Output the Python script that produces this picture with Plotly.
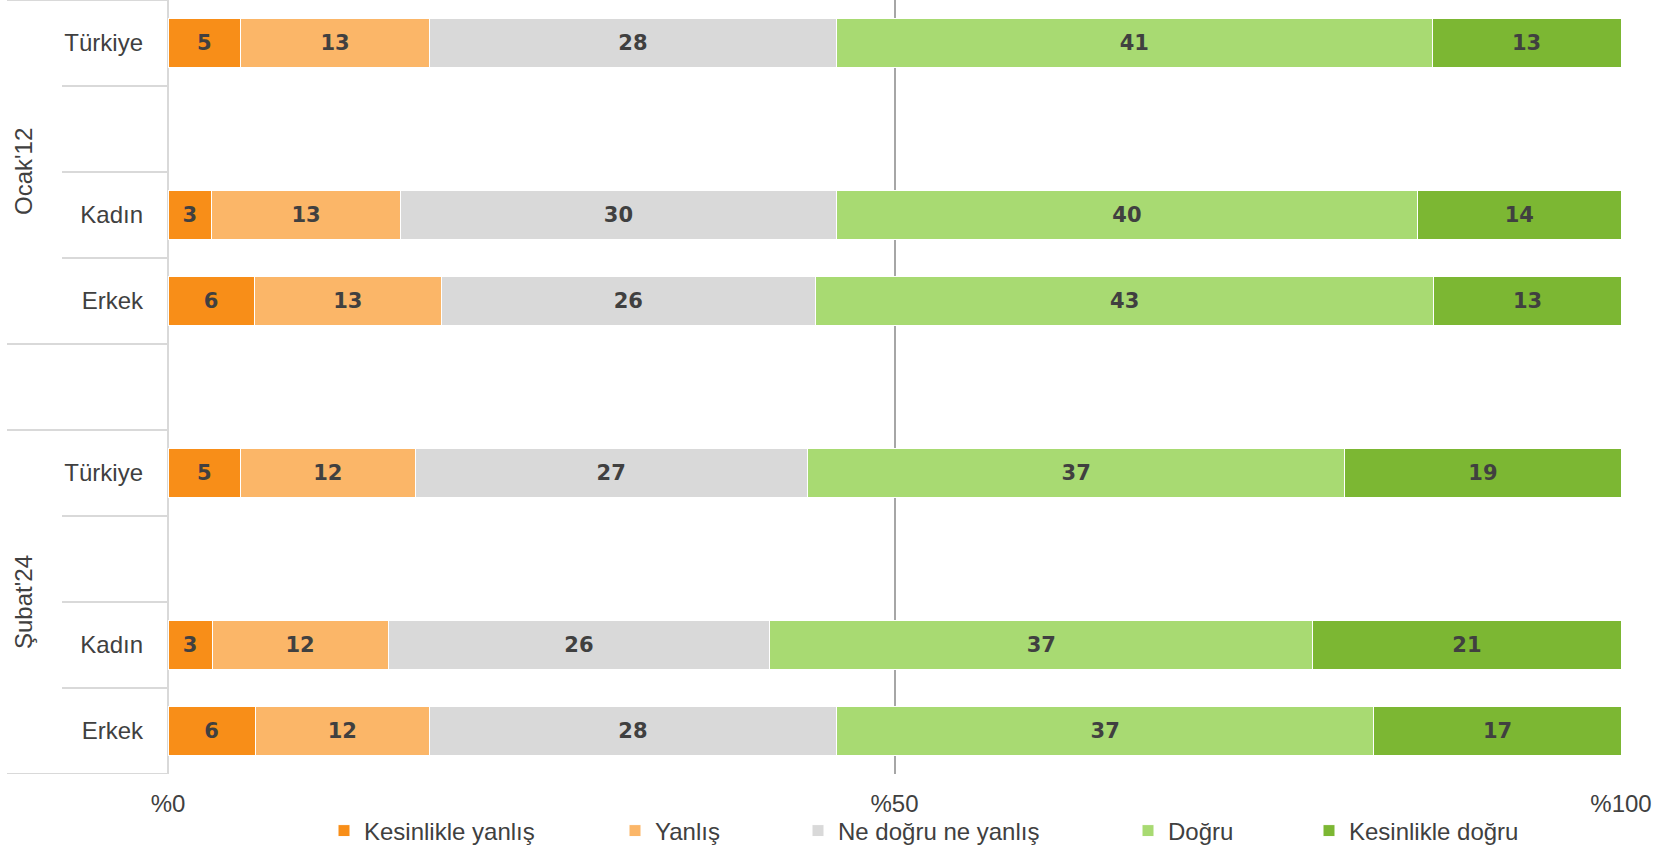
import plotly.graph_objects as go

# ---- data ----
rows = ["Türkiye", "", "Kadın", "Erkek", "", "Türkiye", "", "Kadın", "Erkek"]
groups = ["Ocak'12", "Ocak'12", "Ocak'12", "Ocak'12", "", "Şubat'24", "Şubat'24", "Şubat'24", "Şubat'24"]
group_names = ["Ocak'12", "Şubat'24"]
series_names = ["Kesinlikle yanlış", "Yanlış", "Ne doğru ne yanlış", "Doğru", "Kesinlikle doğru"]
kesinlikle_yanlis = [5, None, 3, 6, None, 5, None, 3, 6]
yanlis = [13, None, 13, 13, None, 12, None, 12, 12]
ne_dogru_ne_yanlis = [28, None, 30, 26, None, 27, None, 26, 28]
dogru = [41, None, 40, 43, None, 37, None, 37, 37]
kesinlikle_dogru = [13, None, 14, 13, None, 19, None, 21, 17]
x_tickvals = [0, 50, 100]
x_ticktext = ["%0", "%50", "%100"]

series_values = [kesinlikle_yanlis, yanlis, ne_dogru_ne_yanlis, dogru, kesinlikle_dogru]
colors = ["#F88E18", "#FBB668", "#D9D9D9", "#A8DA72", "#7CB733"]

FONT = "Liberation Sans"
TXT = "#404040"
W, H = 1660, 846
ML, MR, MT, MB = 168, 39, 0, 72
PW = W - ML - MR
PH = H - MT - MB

def px_to_paper_x(px):
    return (px - ML) / PW

idx = list(range(len(rows)))

fig = go.Figure()
legend_text_starts = [362, 653, 836, 1166, 1347]
for k, (name, vals, col) in enumerate(zip(series_names, series_values, colors)):
    ys = [i for i in idx if vals[i] is not None]
    xs = [vals[i] for i in ys]
    lname = "legend" if k == 0 else f"legend{k+1}"
    fig.add_trace(go.Bar(
        name=name, orientation="h", y=ys, x=xs,
        marker=dict(color=col, line=dict(color="white", width=1)),
        text=xs, texttemplate="%{text}", textposition="inside",
        insidetextanchor="middle", textangle=0,
        textfont=dict(family="DejaVu Sans", size=21, color=TXT, weight="bold"),
        legend=lname, hoverinfo="skip",
    ))

layout_legends = {}
for k, ts in enumerate(legend_text_starts):
    lname = "legend" if k == 0 else f"legend{k+1}"
    layout_legends[lname] = dict(
        x=px_to_paper_x(ts - 38), xanchor="left",
        yref="container", y=(H - 831) / H, yanchor="middle",
        orientation="h", font=dict(family=FONT, size=24, color=TXT),
        bgcolor="rgba(0,0,0,0)", borderwidth=0,
    )

fig.update_layout(
    width=W, height=H,
    margin=dict(l=ML, r=MR, t=MT, b=MB, pad=0, autoexpand=False),
    barmode="stack", barnorm="percent", bargap=0.44,
    plot_bgcolor="white", paper_bgcolor="white",
    font=dict(family=FONT, size=24, color=TXT),
    showlegend=True,
    **layout_legends,
)

fig.update_xaxes(
    range=[0, 100], tickvals=x_tickvals, ticktext=x_ticktext,
    showgrid=True, gridcolor="#A6A6A6", gridwidth=2,
    zeroline=True, zerolinecolor="#D9D9D9", zerolinewidth=2,
    showline=False, ticks="", ticklabelstandoff=13, automargin=False,
    tickfont=dict(family=FONT, size=24, color=TXT), fixedrange=True,
)
fig.update_yaxes(
    range=[len(rows) - 0.5, -0.5], tickvals=idx, ticktext=rows,
    showgrid=False, zeroline=False, showline=False, ticks="",
    ticklabelstandoff=24, tickfont=dict(family=FONT, size=24, color=TXT),
    fixedrange=True, automargin=False,
)

# category separator lines
line_col = "#D9D9D9"
for b in range(len(rows) + 1):
    yb = b - 0.5
    if b == 0 or b == len(rows) or groups[b - 1] != groups[b]:
        x0 = px_to_paper_x(7)
    else:
        x0 = px_to_paper_x(62)
    fig.add_shape(type="line", xref="paper", yref="y", x0=x0, x1=0, y0=yb, y1=yb,
                  line=dict(color=line_col, width=2), layer="above")

# group labels
for g in group_names:
    members = [i for i in idx if groups[i] == g]
    yc = (members[0] + members[-1]) / 2
    fig.add_annotation(text=g, xref="paper", yref="y", x=px_to_paper_x(23), y=yc,
                       textangle=-90, showarrow=False, xanchor="center", yanchor="middle",
                       font=dict(family=FONT, size=24, color=TXT))

fig.write_html("out.html", config={"displayModeBar": False},
               post_script="document.body.style.margin='0';")
